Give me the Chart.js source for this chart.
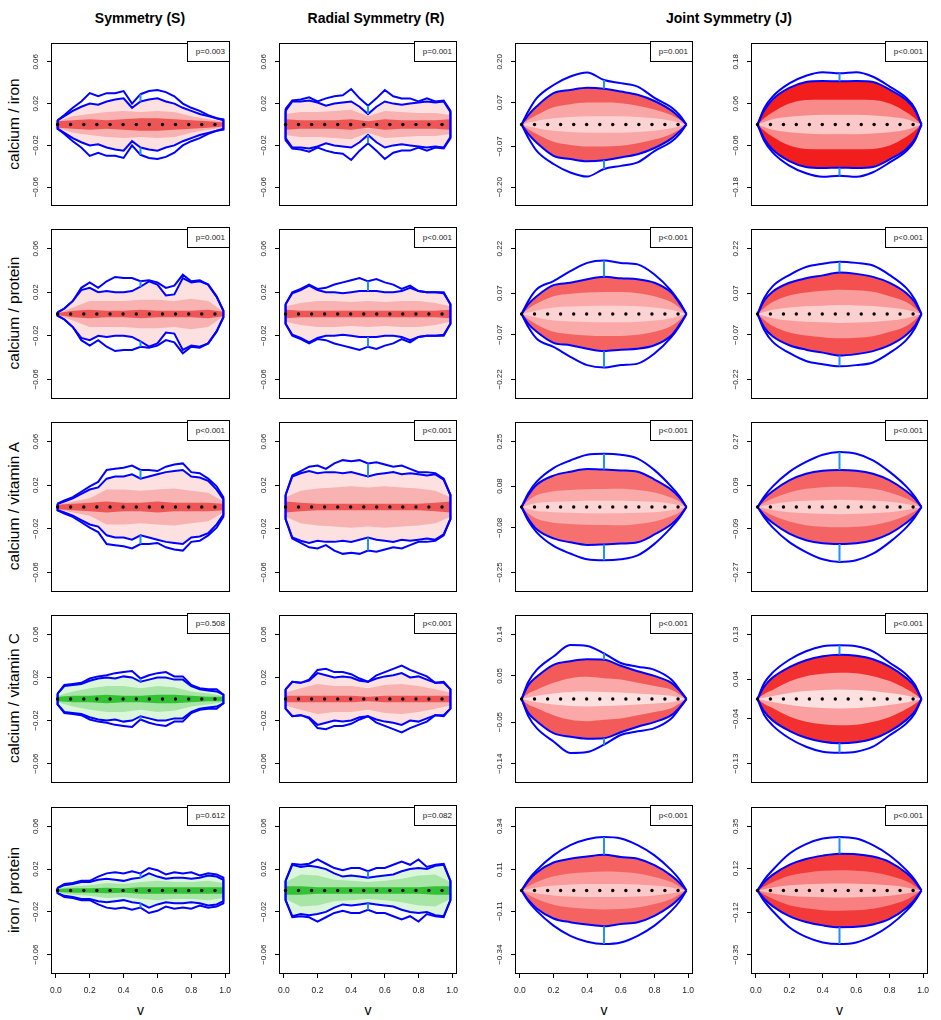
<!DOCTYPE html>
<html><head><meta charset="utf-8">
<script src="https://cdn.jsdelivr.net/npm/chart.js@4.4.1/dist/chart.umd.min.js"></script>
<style>
html,body{margin:0;padding:0;background:#fff;}
#wrap{position:relative;width:941px;height:1020px;overflow:hidden;font-family:"Liberation Sans",Arial,Helvetica,sans-serif;color:#000;}
canvas{position:absolute;}
.t{position:absolute;white-space:nowrap;transform:translate(-50%,-50%);line-height:1;}
.title{font-weight:bold;font-size:14px;}
.rowlab{font-size:15.5px;transform:translate(-50%,-50%) rotate(-90deg);}
.vlab{font-size:14px;}
.pbox{position:absolute;box-sizing:border-box;border:1px solid #000;background:#fff;font-size:8px;text-align:right;padding-right:4px;line-height:19px;white-space:nowrap;color:#222;}
</style></head><body><div id="wrap"></div>
<script>
// ---------------- DATA ----------------
const colTitles = ["Symmetry (S)", "Radial Symmetry (R)", "Joint Symmetry (J)"];
const rowLabels = ["calcium / iron", "calcium / protein", "calcium / vitamin A", "calcium / vitamin C", "iron / protein"];
const pValues = [
  ["p=0.003", "p=0.001", "p=0.001", "p<0.001"],
  ["p=0.001", "p<0.001", "p<0.001", "p<0.001"],
  ["p<0.001", "p<0.001", "p<0.001", "p<0.001"],
  ["p=0.508", "p<0.001", "p<0.001", "p<0.001"],
  ["p=0.612", "p=0.082", "p<0.001", "p<0.001"]
];
const xTickVals = [0, 0.2, 0.4, 0.6, 0.8, 1.0];
const xTickLabels = ["0.0", "0.2", "0.4", "0.6", "0.8", "1.0"];
const yTicksSR = [-0.06, -0.02, 0.02, 0.06];
// joint-symmetry panels: [inner tick, outer tick] per row for columns J1, J2
const yTicksJ = [
  [[0.07, 0.20], [0.06, 0.18]],
  [[0.07, 0.22], [0.07, 0.22]],
  [[0.08, 0.25], [0.09, 0.27]],
  [[0.05, 0.14], [0.04, 0.13]],
  [[0.11, 0.34], [0.12, 0.35]]
];
const xDots = [0.01, 0.087, 0.165, 0.242, 0.32, 0.397, 0.475, 0.552, 0.63, 0.707, 0.785, 0.862, 0.94];
const X21 = [0.01, 0.05, 0.10, 0.15, 0.20, 0.25, 0.30, 0.35, 0.40, 0.45, 0.50, 0.55, 0.60, 0.65, 0.70, 0.75, 0.80, 0.85, 0.90, 0.95, 0.99];
const X11 = [0.01, 0.1, 0.2, 0.3, 0.4, 0.5, 0.6, 0.7, 0.8, 0.9, 0.99];
const XJ = [0.01, 0.05, 0.1, 0.2, 0.3, 0.4, 0.5, 0.6, 0.7, 0.8, 0.9, 0.95, 0.99];

// row 1
const outer_r1c1 = [0.004,0.009,0.016,0.022,0.030,0.027,0.030,0.030,0.032,0.020,0.029,0.032,0.033,0.031,0.027,0.020,0.016,0.013,0.009,0.006,0.005];
const inner_r1c1 = [0.004,0.008,0.013,0.017,0.020,0.019,0.022,0.024,0.025,0.016,0.022,0.024,0.025,0.022,0.020,0.016,0.013,0.010,0.008,0.006,0.004];
const mid_r1c1 = [0.003,0.008,0.010,0.012,0.013,0.012,0.013,0.012,0.008,0.005,0.003];
const core_r1c1 = [0.003,0.004,0.005,0.004,0.005,0.006,0.006,0.005,0.004,0.003,0.002];
const outer_r1c2 = [0.015,0.023,0.024,0.026,0.022,0.025,0.027,0.028,0.034,0.025,0.018,0.025,0.033,0.027,0.025,0.025,0.022,0.025,0.022,0.023,0.013];
const inner_r1c2 = [0.013,0.022,0.022,0.023,0.021,0.018,0.020,0.021,0.022,0.017,0.010,0.017,0.022,0.020,0.019,0.020,0.021,0.022,0.021,0.022,0.012];
const mid_r1c2 = [0.010,0.012,0.012,0.013,0.014,0.008,0.013,0.012,0.011,0.011,0.009];
const core_r1c2 = [0.005,0.004,0.004,0.004,0.005,0.003,0.005,0.004,0.004,0.004,0.005];
const outer_r1c3 = [0,0.042,0.084,0.126,0.153,0.166,0.142,0.132,0.121,0.085,0.055,0.030,0];
const inner_r1c3 = [0,0.030,0.058,0.100,0.110,0.117,0.114,0.105,0.095,0.075,0.045,0.022,0];
const mid_r1c3 = [0,0.015,0.030,0.055,0.065,0.070,0.070,0.068,0.060,0.048,0.030,0.015,0];
const core_r1c3 = [0,0.012,0.020,0.024,0.026,0.026,0.026,0.024,0.020,0.012,0];
const outer_r1c4 = [0,0.047,0.080,0.118,0.140,0.150,0.147,0.150,0.137,0.109,0.076,0.047,0];
const inner_r1c4 = [0,0.040,0.072,0.105,0.122,0.125,0.124,0.125,0.122,0.100,0.070,0.042,0];
const mid_r1c4 = [0,0.018,0.035,0.060,0.070,0.071,0.071,0.071,0.070,0.060,0.035,0.018,0];
const core_r1c4 = [0,0.015,0.022,0.026,0.028,0.028,0.028,0.026,0.022,0.015,0];
// row 2
const outer_r2c1 = [0.0015,0.005,0.012,0.024,0.029,0.024,0.030,0.034,0.033,0.033,0.030,0.031,0.029,0.024,0.026,0.036,0.030,0.031,0.027,0.016,0.003];
const inner_r2c1 = [0.0015,0.005,0.012,0.022,0.024,0.020,0.021,0.020,0.020,0.021,0.025,0.030,0.027,0.017,0.018,0.033,0.029,0.030,0.027,0.016,0.003];
const mid_r2c1 = [0.001,0.006,0.012,0.012,0.012,0.013,0.013,0.012,0.014,0.012,0.002];
const core_r2c1 = [0.001,0.003,0.004,0.003,0.003,0.004,0.003,0.003,0.003,0.004,0.002];
const outer_r2c2 = [0.009,0.020,0.023,0.027,0.023,0.024,0.027,0.029,0.031,0.033,0.030,0.032,0.029,0.027,0.023,0.026,0.021,0.020,0.020,0.020,0.009];
const inner_r2c2 = [0.009,0.019,0.022,0.026,0.022,0.020,0.020,0.019,0.020,0.021,0.021,0.021,0.020,0.020,0.021,0.024,0.021,0.020,0.020,0.019,0.009];
const mid_r2c2 = [0.007,0.010,0.012,0.012,0.011,0.012,0.011,0.012,0.012,0.010,0.007];
const core_r2c2 = [0.004,0.003,0.003,0.003,0.003,0.003,0.003,0.003,0.003,0.003,0.004];
const outer_r2c3 = [0,0.044,0.083,0.111,0.144,0.172,0.180,0.172,0.167,0.133,0.078,0.039,0];
const inner_r2c3 = [0,0.033,0.060,0.097,0.105,0.117,0.125,0.120,0.117,0.105,0.072,0.035,0];
const mid_r2c3 = [0,0.018,0.035,0.060,0.068,0.072,0.074,0.074,0.070,0.060,0.040,0.020,0];
const core_r2c3 = [0,0.012,0.022,0.025,0.027,0.028,0.028,0.026,0.022,0.014,0];
const outer_r2c4 = [0,0.054,0.093,0.131,0.158,0.169,0.176,0.172,0.163,0.131,0.087,0.049,0];
const inner_r2c4 = [0,0.045,0.075,0.105,0.120,0.130,0.140,0.135,0.125,0.105,0.070,0.040,0];
const mid_r2c4 = [0,0.020,0.040,0.062,0.072,0.078,0.082,0.080,0.075,0.060,0.040,0.020,0];
const core_r2c4 = [0,0.014,0.022,0.026,0.028,0.030,0.029,0.027,0.022,0.014,0];
// row 3
const outer_r3c1 = [0.003,0.006,0.009,0.014,0.019,0.023,0.034,0.035,0.036,0.038,0.034,0.034,0.033,0.037,0.039,0.040,0.032,0.031,0.026,0.019,0.009];
const inner_r3c1 = [0.003,0.005,0.008,0.012,0.016,0.018,0.026,0.028,0.028,0.030,0.026,0.028,0.030,0.032,0.033,0.034,0.028,0.027,0.024,0.016,0.007];
const mid_r3c1 = [0.002,0.005,0.008,0.016,0.016,0.015,0.016,0.017,0.015,0.013,0.005];
const core_r3c1 = [0.002,0.003,0.004,0.005,0.004,0.004,0.005,0.004,0.004,0.004,0.003];
const outer_r3c2 = [0.011,0.029,0.033,0.037,0.038,0.035,0.040,0.043,0.042,0.043,0.040,0.041,0.039,0.037,0.038,0.035,0.032,0.032,0.031,0.026,0.011];
const inner_r3c2 = [0.011,0.028,0.031,0.033,0.031,0.032,0.032,0.031,0.032,0.030,0.028,0.030,0.031,0.032,0.030,0.031,0.030,0.029,0.030,0.025,0.011];
const mid_r3c2 = [0.009,0.015,0.017,0.018,0.019,0.018,0.019,0.018,0.017,0.015,0.009];
const core_r3c2 = [0.005,0.004,0.003,0.003,0.003,0.003,0.003,0.003,0.003,0.004,0.005];
const outer_r3c3 = [0,0.053,0.097,0.149,0.178,0.200,0.204,0.200,0.185,0.141,0.078,0.040,0];
const inner_r3c3 = [0,0.045,0.085,0.120,0.135,0.145,0.143,0.140,0.135,0.105,0.066,0.035,0];
const mid_r3c3 = [0,0.025,0.045,0.060,0.065,0.068,0.069,0.070,0.065,0.055,0.035,0.020,0];
const core_r3c3 = [0,0.015,0.020,0.022,0.024,0.024,0.024,0.022,0.020,0.012,0];
const outer_r3c4 = [0,0.043,0.084,0.145,0.186,0.216,0.227,0.220,0.193,0.145,0.084,0.043,0];
const inner_r3c4 = [0,0.035,0.065,0.110,0.137,0.150,0.153,0.150,0.137,0.110,0.065,0.035,0];
const mid_r3c4 = [0,0.018,0.035,0.060,0.075,0.082,0.084,0.082,0.075,0.060,0.035,0.018,0];
const core_r3c4 = [0,0.012,0.022,0.026,0.028,0.030,0.028,0.026,0.022,0.012,0];
// row 4
const outer_r4c1 = [0.005,0.013,0.014,0.015,0.019,0.021,0.022,0.024,0.025,0.026,0.019,0.022,0.024,0.025,0.021,0.021,0.013,0.010,0.009,0.009,0.004];
const inner_r4c1 = [0.005,0.012,0.013,0.014,0.017,0.019,0.020,0.019,0.021,0.020,0.016,0.018,0.020,0.020,0.018,0.018,0.012,0.009,0.008,0.007,0.004];
const mid_r4c1 = [0.003,0.007,0.010,0.012,0.012,0.010,0.012,0.011,0.007,0.005,0.003];
const core_r4c1 = [0.002,0.003,0.003,0.004,0.003,0.003,0.004,0.004,0.003,0.002,0.002];
const outer_r4c2 = [0.009,0.016,0.015,0.018,0.027,0.028,0.025,0.025,0.023,0.019,0.016,0.022,0.025,0.028,0.031,0.027,0.024,0.021,0.015,0.016,0.009];
const inner_r4c2 = [0.009,0.016,0.015,0.017,0.024,0.022,0.020,0.021,0.020,0.017,0.016,0.019,0.021,0.022,0.024,0.020,0.021,0.018,0.015,0.015,0.009];
const mid_r4c2 = [0.006,0.010,0.014,0.012,0.012,0.010,0.013,0.014,0.012,0.009,0.006];
const core_r4c2 = [0.003,0.003,0.003,0.003,0.003,0.002,0.003,0.003,0.003,0.003,0.003];
const outer_r4c3 = [0,0.037,0.063,0.092,0.117,0.115,0.099,0.078,0.070,0.063,0.042,0.020,0];
const inner_r4c3 = [0,0.030,0.048,0.074,0.082,0.086,0.085,0.072,0.060,0.050,0.035,0.018,0];
const mid_r4c3 = [0,0.012,0.020,0.035,0.045,0.048,0.045,0.042,0.035,0.028,0.020,0.010,0];
const core_r4c3 = [0,0.007,0.012,0.015,0.016,0.015,0.014,0.012,0.010,0.007,0];
const outer_r4c4 = [0,0.032,0.053,0.079,0.096,0.106,0.108,0.106,0.096,0.073,0.049,0.029,0];
const inner_r4c4 = [0,0.025,0.043,0.064,0.078,0.086,0.089,0.087,0.080,0.065,0.042,0.025,0];
const mid_r4c4 = [0,0.010,0.018,0.035,0.046,0.051,0.053,0.052,0.046,0.036,0.020,0.010,0];
const core_r4c4 = [0,0.006,0.012,0.016,0.018,0.019,0.018,0.016,0.012,0.007,0];
// row 5
const outer_r5c1 = [0.0025,0.006,0.007,0.009,0.009,0.013,0.016,0.017,0.016,0.018,0.016,0.021,0.019,0.015,0.017,0.016,0.017,0.014,0.016,0.015,0.012];
const inner_r5c1 = [0.0025,0.005,0.006,0.008,0.008,0.010,0.011,0.010,0.009,0.011,0.012,0.016,0.013,0.011,0.012,0.012,0.011,0.012,0.014,0.013,0.010];
const mid_r5c1 = [0.002,0.004,0.005,0.007,0.006,0.008,0.009,0.008,0.008,0.009,0.007];
const core_r5c1 = [0.0015,0.002,0.002,0.0025,0.002,0.003,0.003,0.003,0.003,0.003,0.003];
const outer_r5c2 = [0.009,0.025,0.024,0.025,0.029,0.025,0.021,0.019,0.021,0.021,0.018,0.021,0.021,0.024,0.027,0.024,0.029,0.022,0.024,0.025,0.009];
const inner_r5c2 = [0.009,0.024,0.022,0.023,0.022,0.020,0.016,0.013,0.014,0.013,0.012,0.013,0.014,0.015,0.018,0.020,0.021,0.020,0.023,0.024,0.009];
const mid_r5c2 = [0.008,0.015,0.014,0.010,0.009,0.008,0.009,0.011,0.014,0.015,0.008];
const core_r5c2 = [0.004,0.004,0.003,0.003,0.003,0.003,0.003,0.003,0.003,0.004,0.004];
const outer_r5c3 = [0,0.057,0.108,0.186,0.240,0.271,0.283,0.275,0.240,0.186,0.108,0.057,0];
const inner_r5c3 = [0,0.050,0.095,0.148,0.168,0.180,0.189,0.177,0.168,0.134,0.079,0.040,0];
const mid_r5c3 = [0,0.022,0.045,0.075,0.090,0.097,0.100,0.098,0.090,0.072,0.045,0.020,0];
const core_r5c3 = [0,0.016,0.026,0.032,0.034,0.035,0.034,0.032,0.026,0.016,0];
const outer_r5c4 = [0,0.058,0.111,0.200,0.253,0.283,0.292,0.283,0.247,0.191,0.111,0.058,0];
const inner_r5c4 = [0,0.045,0.085,0.140,0.172,0.190,0.200,0.198,0.185,0.155,0.095,0.050,0];
const mid_r5c4 = [0,0.022,0.045,0.080,0.097,0.107,0.110,0.108,0.100,0.080,0.050,0.025,0];
const core_r5c4 = [0,0.016,0.028,0.034,0.037,0.038,0.037,0.034,0.028,0.017,0];

// table built from the arrays above
const panels = [
  [{o:outer_r1c1,i:inner_r1c1,m:mid_r1c1,c:core_r1c1},{o:outer_r1c2,i:inner_r1c2,m:mid_r1c2,c:core_r1c2},{o:outer_r1c3,i:inner_r1c3,m:mid_r1c3,c:core_r1c3},{o:outer_r1c4,i:inner_r1c4,m:mid_r1c4,c:core_r1c4}],
  [{o:outer_r2c1,i:inner_r2c1,m:mid_r2c1,c:core_r2c1},{o:outer_r2c2,i:inner_r2c2,m:mid_r2c2,c:core_r2c2},{o:outer_r2c3,i:inner_r2c3,m:mid_r2c3,c:core_r2c3},{o:outer_r2c4,i:inner_r2c4,m:mid_r2c4,c:core_r2c4}],
  [{o:outer_r3c1,i:inner_r3c1,m:mid_r3c1,c:core_r3c1},{o:outer_r3c2,i:inner_r3c2,m:mid_r3c2,c:core_r3c2},{o:outer_r3c3,i:inner_r3c3,m:mid_r3c3,c:core_r3c3},{o:outer_r3c4,i:inner_r3c4,m:mid_r3c4,c:core_r3c4}],
  [{o:outer_r4c1,i:inner_r4c1,m:mid_r4c1,c:core_r4c1},{o:outer_r4c2,i:inner_r4c2,m:mid_r4c2,c:core_r4c2},{o:outer_r4c3,i:inner_r4c3,m:mid_r4c3,c:core_r4c3},{o:outer_r4c4,i:inner_r4c4,m:mid_r4c4,c:core_r4c4}],
  [{o:outer_r5c1,i:inner_r5c1,m:mid_r5c1,c:core_r5c1},{o:outer_r5c2,i:inner_r5c2,m:mid_r5c2,c:core_r5c2},{o:outer_r5c3,i:inner_r5c3,m:mid_r5c3,c:core_r5c3},{o:outer_r5c4,i:inner_r5c4,m:mid_r5c4,c:core_r5c4}]
];

// ---------------- STYLE / LAYOUT ----------------
const FONT = '"Liberation Sans", Arial, Helvetica, sans-serif';
const colL = [51, 279, 515, 751], colR = [230, 457, 693, 928];
const rowT = [41, 227, 420, 613, 805], rowB = [206, 399, 592, 783, 974];
const titleX = [140, 376, 729];
const palRed = ['#fde0e0', '#f8b2b2', '#ee5555'];
const palGreen = ['#dcf6dc', '#a8e6a8', '#33c233'];
const greenPanel = [[0,0],[0,0],[0,0],[1,0],[1,1]];
const jointPal = [
  [['#f25c5c','#f9a6a6','#fcd2d2'], ['#f21e1e','#f88a8a','#fcc8c8']],
  [['#f56262','#fba8a8','#fdd2d2'], ['#f45050','#fa9c9c','#fdd0d0']],
  [['#f67070','#fbaaaa','#fdd4d4'], ['#f56464','#fba0a0','#fdd0d0']],
  [['#f35a5a','#fba8a8','#fde0e0'], ['#f23030','#fba0a0','#fde0e0']],
  [['#f56262','#fa9a9a','#fccaca'], ['#f33a3a','#f88080','#fcc0c0']]
];
const BLUE = '#0000ff', LIGHTBLUE = '#1e90ff';
const PAD_L = 40;

Chart.defaults.font.family = FONT;

const wrap = document.getElementById('wrap');
function addText(cls, txt, x, y) {
  const d = document.createElement('div');
  d.className = 't ' + cls; d.textContent = txt;
  d.style.left = x + 'px'; d.style.top = y + 'px';
  wrap.appendChild(d);
}
colTitles.forEach((t, i) => addText('title', t, titleX[i], 18));
rowLabels.forEach((t, r) => addText('rowlab', t, 14, (rowT[r] + rowB[r]) / 2));
colL.forEach((l, c) => addText('vlab', 'v', (l + colR[c]) / 2, 1010));

const fmt = v => (v < 0 ? '\u2212' : '') + Math.abs(v).toFixed(2);

const boxPlugin = {
  id: 'rbox',
  afterDraw(chart) {
    const { ctx, chartArea: a } = chart;
    const ys = chart.scales.y;
    ctx.save();
    ctx.strokeStyle = '#000'; ctx.lineWidth = 1;
    ctx.strokeRect(a.left + 0.5, a.top + 0.5, a.right - a.left - 1, a.bottom - a.top - 1);
    ctx.font = '8px ' + FONT;
    ctx.fillStyle = '#222'; ctx.textAlign = 'center'; ctx.textBaseline = 'middle';
    ys.ticks.forEach(t => {
      const y = ys.getPixelForValue(t.value);
      ctx.save(); ctx.translate(a.left - 15, y); ctx.rotate(-Math.PI / 2);
      ctx.fillText(fmt(t.value), 0, 0); ctx.restore();
    });
    ctx.restore();
  }
};

const upper = (xs, v) => xs.map((x, i) => ({ x, y: v[i] }));
const lower = (xs, v) => xs.map((x, i) => ({ x, y: -v[i] }));
const loop = (xs, v) => { const u = upper(xs, v); return u.concat(lower(xs, v).reverse(), [u[0]]); };

for (let r = 0; r < 5; r++) {
  for (let c = 0; c < 4; c++) {
    const isJ = c >= 2, bottom = r === 4;
    const d = panels[r][c];
    const X = isJ ? XJ : X21;
    const pal = isJ ? jointPal[r][c - 2] : (greenPanel[r][c] ? palGreen : palRed);
    const tk = isJ ? yTicksJ[r][c - 2] : [0.02, 0.06];
    const yt = isJ ? [-tk[1], -tk[0], tk[0], tk[1]] : yTicksSR;
    const ymax = (isJ ? tk[1] : 0.06) * 1.3;
    const interp = isJ ? { cubicInterpolationMode: 'monotone' } : { tension: 0 };
    const ds = [];
    const band = (xs, v, col, order) => {
      ds.push(Object.assign({ data: upper(xs, v), fill: '+1', backgroundColor: col, borderColor: 'rgba(0,0,0,0)', borderWidth: 0, pointRadius: 0, order }, interp));
      ds.push(Object.assign({ data: lower(xs, v), fill: false, borderColor: 'rgba(0,0,0,0)', borderWidth: 0, pointRadius: 0, order }, interp));
    };
    band(X, d.i, pal[0], 6);
    band(isJ ? XJ : X11, d.m, pal[1], 5);
    band(X11, d.c, pal[2], 4);
    const line = (pts) => Object.assign({ data: pts, fill: false, borderColor: BLUE, borderWidth: 2, pointRadius: 0, order: 2 }, interp);
    if (isJ) {
      ds.push(line(upper(X, d.o))); ds.push(line(lower(X, d.o)));
      ds.push(line(upper(X, d.i))); ds.push(line(lower(X, d.i)));
    } else {
      ds.push(line(loop(X, d.o))); ds.push(line(loop(X, d.i)));
    }
    const k = X.indexOf(0.5);
    ds.push({ data: [{ x: 0.5, y: d.i[k] }, { x: 0.5, y: d.o[k] }], fill: false, borderColor: LIGHTBLUE, borderWidth: 2, pointRadius: 0, order: 1 });
    ds.push({ data: [{ x: 0.5, y: -d.i[k] }, { x: 0.5, y: -d.o[k] }], fill: false, borderColor: LIGHTBLUE, borderWidth: 2, pointRadius: 0, order: 1 });
    ds.push({ data: xDots.map(x => ({ x, y: 0 })), showLine: false, pointRadius: 1.7, pointBackgroundColor: '#000', pointBorderWidth: 0, order: 0 });

    const W = colR[c] - colL[c] + PAD_L + 4;
    const H = rowB[r] - rowT[r] + 2 + (bottom ? 30 : 4);
    const cv = document.createElement('canvas');
    cv.width = W; cv.height = H;
    cv.style.width = W + 'px'; cv.style.height = H + 'px';
    cv.style.left = (colL[c] - PAD_L) + 'px'; cv.style.top = (rowT[r] - 2) + 'px';
    wrap.appendChild(cv);

    new Chart(cv, {
      type: 'line',
      data: { datasets: ds },
      options: {
        responsive: false, devicePixelRatio: 1, animation: false, events: [],
        layout: { padding: { left: 0, top: 2, right: 4, bottom: bottom ? 0 : 4 } },
        plugins: { legend: { display: false }, tooltip: { enabled: false } },
        scales: {
          x: {
            type: 'linear', min: -0.029, max: 1.029, display: bottom,
            afterBuildTicks: s => { s.ticks = xTickVals.map(v => ({ value: v })); },
            afterFit: s => { s.height = bottom ? 30 : 0; s.paddingLeft = 0; s.paddingRight = 0; },
            ticks: { callback: (v, i) => xTickLabels[i], font: { size: 8.5 }, color: '#222', padding: 8, maxRotation: 0, autoSkip: false },
            grid: { display: true, drawOnChartArea: false, drawTicks: true, tickLength: 4, color: '#000' },
            border: { display: false }
          },
          y: {
            type: 'linear', min: -ymax, max: ymax,
            afterBuildTicks: s => { s.ticks = yt.map(v => ({ value: v })); },
            afterFit: s => { s.width = PAD_L; s.paddingTop = 0; s.paddingBottom = 0; },
            ticks: { display: false },
            grid: { display: true, drawOnChartArea: false, drawTicks: true, tickLength: 4, color: '#000' },
            border: { display: false }
          }
        }
      },
      plugins: [boxPlugin]
    });

    const pb = document.createElement('div');
    pb.className = 'pbox'; pb.textContent = pValues[r][c];
    pb.style.left = (colR[c] - 43) + 'px'; pb.style.top = rowT[r] + 'px';
    pb.style.width = '43px'; pb.style.height = '21px';
    wrap.appendChild(pb);
  }
}
</script></body></html>
